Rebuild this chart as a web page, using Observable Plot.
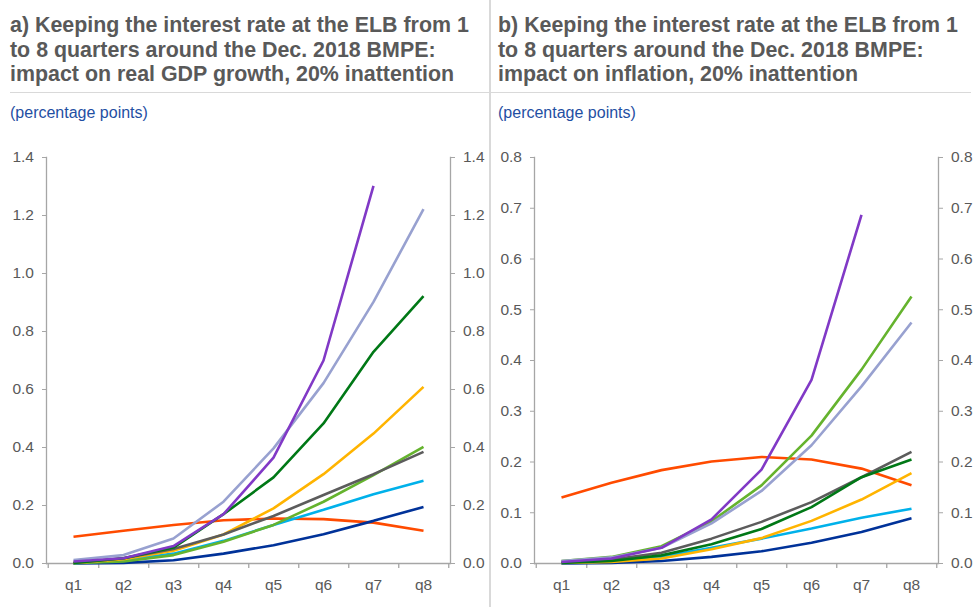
<!DOCTYPE html>
<html>
<head>
<meta charset="utf-8">
<script src="https://cdn.jsdelivr.net/npm/d3@7"></script>
<script src="https://cdn.jsdelivr.net/npm/@observablehq/plot@0.6"></script>
<style>
  html, body { margin: 0; padding: 0; background: #fff; }
  body { width: 974px; height: 607px; position: relative; overflow: hidden; font-family: Arial, "Liberation Sans", sans-serif; }
  .panel { position: absolute; top: 0; width: 487px; height: 607px; }
  .title { position: absolute; top: 13px; font-weight: bold; font-size: 21.4px; line-height: 24.7px; color: #595959; white-space: nowrap; }
  .rule { position: absolute; top: 91.5px; height: 1.5px; background: #d9d9d9; }
  .sub { position: absolute; top: 104px; font-size: 16px; color: #1f4fa3; }
  .chart { position: absolute; top: 130px; left: 0; }
  #sep { position: absolute; left: 489px; top: 0; width: 1.5px; height: 607px; background: #d9d9d9; }
</style>
</head>
<body>
<div class="panel" id="pa" style="left:0">
  <div class="title" style="left:10px">a) Keeping the interest rate at the ELB from 1<br>to 8 quarters around the Dec. 2018 BMPE:<br>impact on real GDP growth, 20% inattention</div>
  <div class="rule" style="left:10px;width:479px"></div>
  <div class="sub" style="left:10px">(percentage points)</div>
  <div class="chart" id="ca"></div>
</div>
<div class="panel" id="pb" style="left:487px">
  <div class="title" style="left:11px">b) Keeping the interest rate at the ELB from 1<br>to 8 quarters around the Dec. 2018 BMPE:<br>impact on inflation, 20% inattention</div>
  <div class="rule" style="left:4px;width:480px"></div>
  <div class="sub" style="left:11px">(percentage points)</div>
  <div class="chart" id="cb"></div>
</div>
<div id="sep"></div>
<script>
// Categories and ticks
const quarters = ["q1", "q2", "q3", "q4", "q5", "q6", "q7", "q8"];
const gdpTicks = [0, 0.2, 0.4, 0.6, 0.8, 1.0, 1.2, 1.4];
const inflTicks = [0, 0.1, 0.2, 0.3, 0.4, 0.5, 0.6, 0.7, 0.8];

// Series keys and colours (drawing order)
const seriesKeys = ["S1", "S2", "S3", "S4", "S5", "S6", "S7", "S8", "S9"];
const seriesColors = ["#ff4b00", "#003299", "#00b1ea", "#65b32e", "#ffb400", "#5c5c5c", "#007816", "#98a1d0", "#8139c6"];

// Panel a) real GDP growth
const gdpRed        = [0.092, 0.113, 0.133, 0.149, 0.155, 0.153, 0.141, 0.113];
const gdpDarkBlue   = [0.000, 0.002, 0.011, 0.034, 0.063, 0.101, 0.147, 0.195];
const gdpCyan       = [0.001, 0.011, 0.034, 0.078, 0.133, 0.185, 0.239, 0.285];
const gdpLightGreen = [0.001, 0.007, 0.029, 0.075, 0.133, 0.213, 0.305, 0.402];
const gdpYellow     = [0.002, 0.015, 0.044, 0.100, 0.190, 0.308, 0.448, 0.609];
const gdpGrey       = [0.002, 0.018, 0.050, 0.100, 0.164, 0.236, 0.308, 0.385];
const gdpDarkGreen  = [0.002, 0.018, 0.055, 0.170, 0.297, 0.483, 0.730, 0.922];
const gdpLavender   = [0.012, 0.029, 0.086, 0.213, 0.397, 0.622, 0.902, 1.222];
const gdpPurple     = [0.007, 0.018, 0.060, 0.170, 0.365, 0.700, 1.302, null];

// Panel b) inflation
const inflRed        = [0.130, 0.159, 0.184, 0.201, 0.210, 0.205, 0.187, 0.154];
const inflDarkBlue   = [0.000, 0.001, 0.005, 0.013, 0.024, 0.041, 0.062, 0.089];
const inflCyan       = [0.001, 0.004, 0.013, 0.031, 0.049, 0.069, 0.090, 0.108];
const inflLightGreen = [0.005, 0.013, 0.034, 0.083, 0.154, 0.252, 0.382, 0.526];
const inflYellow     = [0.001, 0.003, 0.010, 0.028, 0.050, 0.084, 0.126, 0.178];
const inflGrey       = [0.003, 0.008, 0.021, 0.049, 0.082, 0.121, 0.170, 0.220];
const inflDarkGreen  = [0.001, 0.005, 0.016, 0.038, 0.068, 0.111, 0.170, 0.205];
const inflLavender   = [0.005, 0.012, 0.031, 0.079, 0.143, 0.233, 0.349, 0.475];
const inflPurple     = [0.003, 0.010, 0.031, 0.087, 0.185, 0.362, 0.687, null];

const gdpSeries = [gdpRed, gdpDarkBlue, gdpCyan, gdpLightGreen, gdpYellow, gdpGrey, gdpDarkGreen, gdpLavender, gdpPurple];
const inflSeries = [inflRed, inflDarkBlue, inflCyan, inflLightGreen, inflYellow, inflGrey, inflDarkGreen, inflLavender, inflPurple];

function toRows(seriesList) {
  const rows = [];
  seriesList.forEach((vals, k) => {
    vals.forEach((v, i) => {
      if (v != null) rows.push({ key: seriesKeys[k], q: quarters[i], v });
    });
  });
  return rows;
}

function panel(seriesList, yMax, ticks, ml, mr) {
  const W = 487, H = 477, mt = 27, mb = 44;
  const half = (W - ml - mr) / 16;
  const axisGrey = "#a6a6a6";
  const textGrey = "#595959";
  const fmt = d3.format(".1f");
  const fs = 15.5;
  return Plot.plot({
    width: W, height: H,
    marginLeft: ml, marginRight: mr, marginTop: mt, marginBottom: mb,
    style: { fontFamily: "Arial, 'Liberation Sans', sans-serif", fontSize: "15.5px", background: "transparent" },
    x: { type: "point", domain: quarters, padding: 0.5 },
    y: { domain: [0, yMax] },
    color: { domain: seriesKeys, range: seriesColors },
    marks: [
      Plot.frame({ anchor: "left", stroke: axisGrey, strokeWidth: 1.3 }),
      Plot.frame({ anchor: "right", stroke: axisGrey, strokeWidth: 1.3 }),
      Plot.ruleY([0], { stroke: axisGrey, strokeWidth: 1.3 }),
      Plot.axisY({ anchor: "left", ticks, tickFormat: fmt, tickSize: 4, tickPadding: 8.5, stroke: axisGrey, fill: textGrey, fontSize: fs, label: null }),
      Plot.axisY({ anchor: "right", ticks, tickFormat: fmt, tickSize: 4, tickPadding: 8.5, stroke: axisGrey, fill: textGrey, fontSize: fs, label: null }),
      Plot.axisX({ ticks: quarters, tickSize: 0, tickPadding: 15, fill: textGrey, fontSize: fs, label: null }),
      Plot.axisX({ ticks: quarters, tickSize: 5, tickFormat: () => "", stroke: axisGrey, strokeWidth: 1.3, label: null, dx: half }),
      Plot.axisX({ ticks: [quarters[0]], tickSize: 5, tickFormat: () => "", stroke: axisGrey, strokeWidth: 1.3, label: null, dx: -half }),
      Plot.line(toRows(seriesList), { x: "q", y: "v", z: "key", stroke: "key", strokeWidth: 2.6, strokeLinejoin: "miter", strokeLinecap: "butt" })
    ]
  });
}

document.getElementById("ca").append(panel(gdpSeries, 1.4, gdpTicks, 46, 37));
document.getElementById("cb").append(panel(inflSeries, 0.8, inflTicks, 47, 36));
</script>
</body>
</html>
